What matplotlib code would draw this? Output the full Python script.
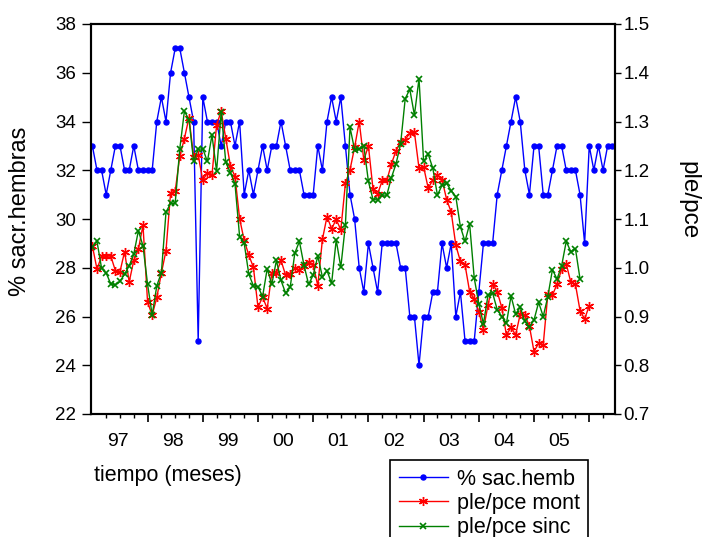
import matplotlib
matplotlib.use('Agg')
import matplotlib.pyplot as plt
import numpy as np
from matplotlib.ticker import FixedLocator, FormatStrFormatter

plt.rcParams['font.family'] = ['Liberation Sans', 'DejaVu Sans']

# ---- data (monthly, Jan 1997 onward) ----
sac_hemb = [33, 32, 32, 31, 32, 33, 33, 32, 32, 33, 32, 32, 32, 32,
            34, 35, 34, 36, 37, 37, 36, 35, 34, 25, 35, 34, 34, 34,
            33, 34, 34, 33, 34, 31, 32, 31, 32, 33, 32, 33, 33, 34, 33, 32, 32, 32,
            31, 31, 31, 33, 32, 34, 35, 34, 35, 33, 31, 30,
            28, 27, 29, 28, 27, 29, 29, 29, 29, 28, 28, 26, 26, 24, 26, 26, 27, 27,
            29, 28, 29, 26, 27, 25, 25, 25,
            27, 29, 29, 29, 31, 32, 33, 34, 35, 34, 32, 31, 33, 33, 31, 31, 32, 33,
            33, 32, 32, 32, 31, 29, 33, 32, 33, 32, 33, 33]

pce_mont = [1.045, 0.997, 1.024, 1.024, 1.024, 0.994, 0.992, 1.033, 0.971, 1.015,
            1.038, 1.087, 0.929, 0.903, 0.939, 0.989, 1.035, 1.154, 1.157, 1.229,
            1.265, 1.308, 1.228, 1.231, 1.179, 1.195, 1.190, 1.293, 1.321, 1.265,
            1.209, 1.187, 1.101, 1.056, 1.026, 1.001, 0.919, 0.940, 0.916, 0.989,
            0.989, 1.015, 0.985, 0.987, 0.999, 0.996, 1.004, 1.011, 1.006, 0.963,
            1.058, 1.105, 1.080, 1.099, 1.078, 1.173, 1.201, 1.247, 1.300, 1.221,
            1.250, 1.161, 1.151, 1.179, 1.179, 1.213, 1.240, 1.258, 1.263, 1.276,
            1.278, 1.204, 1.207, 1.163, 1.180, 1.190, 1.181, 1.140, 1.114, 1.046,
            1.013, 1.006, 0.951, 0.936, 0.910, 0.873, 0.924, 0.967, 0.951, 0.918,
            0.862, 0.878, 0.862, 0.905, 0.903, 0.880, 0.828, 0.845, 0.842, 0.946,
            0.944, 0.966, 0.997, 1.008, 0.970, 0.966, 0.912, 0.895, 0.922]

pce_sinc = [1.043, 1.054, 0.999, 0.989, 0.967, 0.965, 0.972, 0.987, 1.004, 1.028,
            1.076, 1.045, 0.966, 0.903, 0.963, 0.990, 1.114, 1.132, 1.132, 1.244,
            1.321, 1.304, 1.219, 1.243, 1.244, 1.218, 1.272, 1.198, 1.320, 1.216,
            1.195, 1.172, 1.064, 1.050, 0.987, 0.963, 0.961, 0.941, 0.998, 0.966,
            1.015, 0.974, 0.948, 0.960, 1.030, 1.054, 1.005, 0.966, 0.985, 1.024,
            0.981, 0.994, 0.968, 1.057, 1.001, 1.088, 1.288, 1.242, 1.243, 1.250,
            1.177, 1.140, 1.139, 1.149, 1.149, 1.185, 1.213, 1.254, 1.347, 1.366,
            1.313, 1.388, 1.218, 1.233, 1.204, 1.149, 1.169, 1.173, 1.158, 1.146,
            1.084, 1.054, 1.090, 0.979, 0.926, 0.885, 0.944, 0.948, 0.914, 0.900,
            0.886, 0.942, 0.905, 0.919, 0.890, 0.878, 0.893, 0.929, 0.900, 0.941,
            0.996, 0.977, 1.004, 1.054, 1.033, 1.039, 0.977]

year_labels = ['97', '98', '99', '00', '01', '02', '03', '04', '05']
left_ticks = [22, 24, 26, 28, 30, 32, 34, 36, 38]
right_ticks = [0.7, 0.8, 0.9, 1.0, 1.1, 1.2, 1.3, 1.4, 1.5]

FS_Y = 13.5
FS_X = 14
FS_T = 15.5
W, H = 702, 537
fig = plt.figure(figsize=(W / 100, H / 100), dpi=100)
ax = fig.add_axes([91 / W, 1 - 414 / H, (615 - 91) / W, (414 - 24) / H])

xb = np.arange(len(sac_hemb))
xr = np.arange(len(pce_mont))
xg = np.arange(len(pce_sinc))

l1, = ax.plot(xb, sac_hemb, color='#0000ff', lw=1.0, marker='o', ms=3.6,
              label='% sac.hemb')
ax2 = ax.twinx()
l2, = ax2.plot(xr, pce_mont, color='#ff0000', lw=1.0, marker=(6, 2, 0), ms=6.5,
               mew=1.0, label='ple/pce mont')
l3, = ax2.plot(xg, pce_sinc, color='#008000', lw=1.0, marker='x', ms=4.5,
               mew=1.2, label='ple/pce sinc')

ax.set_ylim(22, 38)
ax2.set_ylim(0.7, 1.5)
ax.set_yticks(left_ticks)
ax2.set_yticks(right_ticks)
ax2.yaxis.set_major_formatter(FormatStrFormatter('%.1f'))
ax.set_xlim(-0.3, 113.6)

n = len(sac_hemb)
majors = [m for m in range(12, n, 12)]
minors = [m for m in range(0, n, 3) if m % 12 != 0]
ax.xaxis.set_major_locator(FixedLocator(majors))
ax.xaxis.set_minor_locator(FixedLocator(minors))
ax.tick_params(axis='x', which='major', length=6, width=1.2, direction='out',
               labelbottom=False)
ax.tick_params(axis='x', which='minor', length=3, width=1.0, direction='out')
ax.tick_params(axis='y', which='major', length=6.5, width=1.0, direction='out',
               labelsize=FS_Y, pad=4.5)
ax2.tick_params(axis='y', which='major', length=4, width=1.0, direction='out',
                labelsize=FS_Y, pad=2)

sec = ax.secondary_xaxis('bottom')
sec.set_xticks([12 * k + 5.5 for k in range(len(year_labels))], labels=year_labels)
sec.tick_params(length=0, pad=14, labelsize=FS_X)
sec.spines['bottom'].set_visible(False)

for a in (ax, ax2):
    for s in a.spines.values():
        s.set_linewidth(1.5)

fig.text(20 / W, 1 - 211 / H, '% sacr.hembras', rotation=90, ha='center',
         va='center', fontsize=17)
fig.text(688 / W, 1 - 200 / H, 'ple/pce', rotation=270, ha='center',
         va='center', fontsize=17.5)
fig.text(94 / W, 1 - 476 / H, 'tiempo (meses)', ha='left', va='center',
         fontsize=FS_T)

leg = fig.legend(handles=[l1, l2, l3], loc='upper left',
                 bbox_to_anchor=(390 / W, 1 - 460 / H), fontsize=FS_T,
                 numpoints=1, frameon=True, fancybox=False, framealpha=1,
                 edgecolor='black', handlelength=2.3, handletextpad=0.4,
                 labelspacing=0.15, borderpad=0.4, borderaxespad=0)
leg.get_frame().set_linewidth(1.2)

fig.savefig('out.png', dpi=100)
